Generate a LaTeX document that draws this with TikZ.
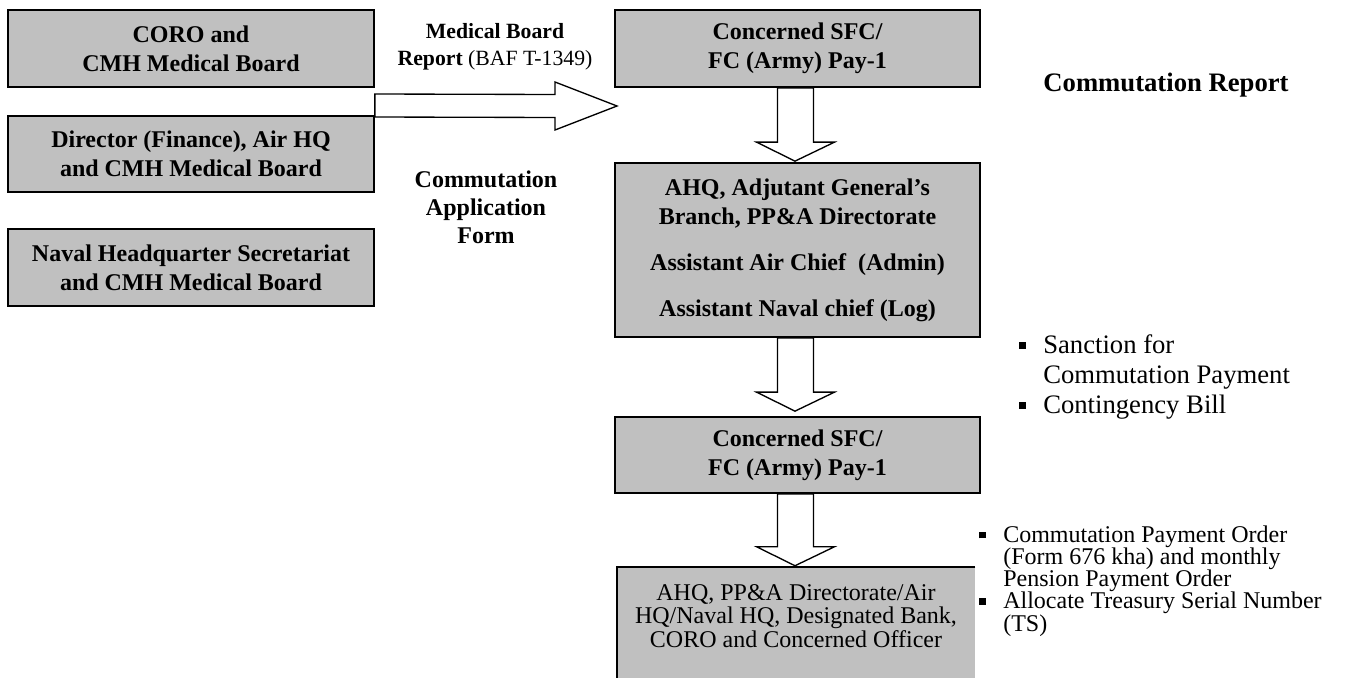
\documentclass[tikz,border=0pt]{standalone}
\usepackage{fontspec}
\setmainfont{Liberation Serif}
\usetikzlibrary{calc}
\definecolor{boxgray}{RGB}{192,192,192}
\newcommand\sqb{\llap{\raisebox{0.17em}{\rule{5pt}{5pt}}\hspace{13pt}}}
\newcommand\dnarrow[3]{%
  \draw[blk] ($(#1.south)+(-20,0)$) -- ($(#1.south |- #2.north)+(-20,-19-#3)$)
    -- ($(#1.south |- #2.north)+(-41,-19-#3)$) -- ($(#1.south |- #2.north)+(-2.5,-#3)$)
    -- ($(#1.south |- #2.north)+(37,-19-#3)$) -- ($(#1.south |- #2.north)+(16,-19-#3)$)
    -- ($(#1.south)+(16,0)$) -- cycle;}
\tikzset{
  box/.style={draw=black, line width=1.3pt, fill=boxgray, minimum width=366*0.75pt,
    inner sep=0pt, align=center, font=\fontsize{18}{21.75}\selectfont\bfseries},
  blk/.style={draw=black, line width=1pt, fill=white, line join=miter},
  blist/.style={align=left, anchor=west, inner sep=0pt},
}
\begin{document}
\begin{tikzpicture}[x=0.75pt,y=-0.75pt]
\useasboundingbox (0,0) rectangle (1353,678);
% left boxes
\node[box, minimum height=77*0.75pt] (b1) at (191,48.5) {CORO and\\CMH Medical Board};
\node[box, minimum height=76*0.75pt] (b2) at (191,154) {Director (Finance), Air HQ\\and CMH Medical Board};
\node[box, minimum height=77*0.75pt] (b3) at (191,267.5) {Naval Headquarter Secretariat\\and CMH Medical Board};
% right column
\node[box, minimum width=365*0.75pt, minimum height=77*0.75pt] (r1) at (797.5,48.5) {Concerned SFC/\\FC (Army) Pay-1};
\node[box, minimum width=365*0.75pt, minimum height=174*0.75pt] (ahq) at (797.5,250)
  {AHQ, Adjutant General's\\Branch, PP\&A Directorate\\[12.75pt]Assistant Air Chief~ (Admin)\\[12.75pt]Assistant Naval chief (Log)};
\node[box, minimum width=365*0.75pt, minimum height=76*0.75pt] (r2) at (797.5,455) {Concerned SFC/\\FC (Army) Pay-1};
\node[fill=boxgray, minimum width=358*0.75pt, minimum height=98*0.75pt, inner sep=0pt, align=center,
  font=\fontsize{18}{17.6}\selectfont] (fin) at (796,616)
  {AHQ, PP\&A Directorate/Air\\HQ/Naval HQ, Designated Bank,\\CORO and Concerned Officer};
\fill[boxgray] (fin.south west) rectangle ($(fin.south east)+(0,20)$);
\draw[line width=1.3pt] (fin.north east) -- (fin.north west) -- ($(fin.south west)+(0,20)$);
% block arrows
\coordinate (ras) at (b1.east |- 0,105.5);
\coordinate (rat) at (617,106);
\draw[blk] ($(ras)+(0,-11.5)$) -- ($(rat)+(-62,-11.5)$) -- ($(rat)+(-62,-24)$) -- (rat)
  -- ($(rat)+(-62,24)$) -- ($(rat)+(-62,11.5)$) -- ($(ras)+(0,11.5)$) -- cycle;
\dnarrow{r1}{ahq}{1}
\dnarrow{ahq}{r2}{5}
\dnarrow{r2}{fin}{1}
% labels
\node[font=\fontsize{16.3}{20.25}\selectfont, align=center] (mbr) at (495,46.5)
  {\textbf{Medical Board}\\\textbf{Report} (BAF T-1349)};
\node[font=\fontsize{18}{21}\selectfont\bfseries, align=center] (caf) at (486,207)
  {Commutation\\Application\\Form};
\node[font=\fontsize{20}{24}\selectfont\bfseries] (crep) at (1166,85) {Commutation Report};
\node[blist, font=\fontsize{20}{22.5}\selectfont] (s1) at (1043,377)
  {\sqb Sanction for\\Commutation Payment\\\sqb Contingency Bill};
\node[blist, font=\fontsize{18}{16.6}\selectfont] (s2) at (1003,581)
  {\sqb Commutation Payment Order\\(Form 676 kha) and monthly\\Pension Payment Order\\\sqb Allocate Treasury Serial Number\\(TS)};
\end{tikzpicture}
\end{document}
